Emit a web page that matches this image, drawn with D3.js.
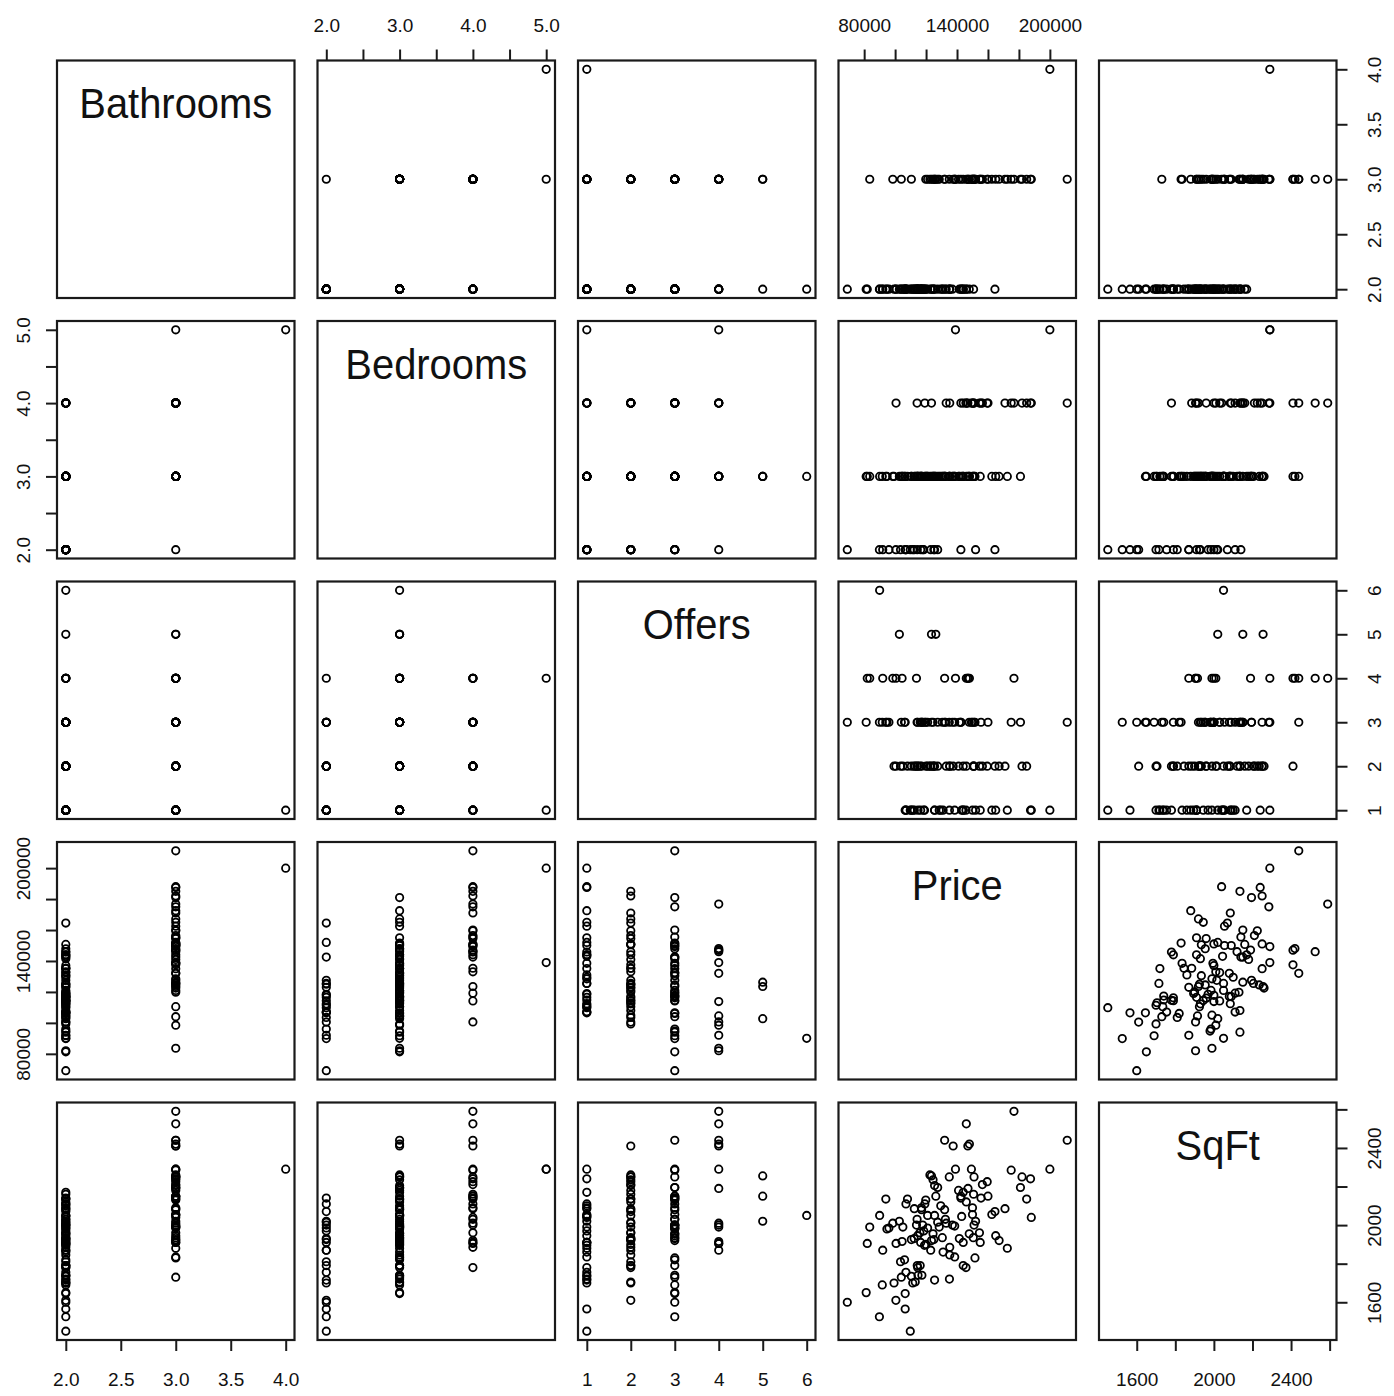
<!DOCTYPE html>
<html><head><meta charset="utf-8">
<script src="https://cdn.jsdelivr.net/npm/d3@7"></script>
<style>body{margin:0;background:#fff}svg{display:block}</style>
</head><body><svg id="c" width="1394" height="1396"></svg>
<script>
const varNames = ["Bathrooms","Bedrooms","Offers","Price","SqFt"];

const price = [69100,81300,83600,82000,89850,91700,92000,90000,94000,94700,
98500,99300,100600,100500,104500,104000,106500,106500,106100,103500,
102750,105000,109800,107000,111400,113000,114300,114800,114600,116200,
117300,112300,113800,117800,114200,119200,119800,117100,112400,123000,
126300,132500,137000,135100,125500,135000,151600,145800,144000,147100,
150700,156400,149300,167200,176800,188000,182000,211200,200000,139000,
175000,187500,181000,185000,172500,165000,171000,164500,162500,160000,
159500,151000,146000,147000,148000,137500,132000,141000,144000,142500,
152000,150000,150000,155500,146000,143000,142500,155000,154500,150500,
151000,144000,141500,138500,135300,135300,138500,131000,130500,125000,
124500,128500,119000,120000,121000,118500,110500,114500,116500,121000,
125500,127500,129500,122500,123500,125500,108000,107000,133000,132000,
127500,124500,117000,96000,110500,123500,147900,116000];

const sqft = [1600,1650,1990,1905,1525,1690,1870,2050,2135,1980,
2010,1700,1905,1610,1915,1730,1565,1645,1820,1810,
2020,1990,1450,1755,1700,1705,1790,1740,1780,1790,
1740,1930,2000,2000,2030,2110,2130,2080,2085,1870,
2150,2030,2000,1720,1715,2250,1830,1780,1790,2190,
2160,2210,2290,1920,2590,2040,2250,2440,2290,2290,
2285,2240,2195,2135,1880,1945,2085,2070,2055,2150,
2225,2250,2525,2410,2420,2410,2440,2180,2170,2150,
2020,2055,2090,2140,2120,2045,2140,1910,1960,1935,
2000,1910,1930,1835,1845,1885,1995,1860,1935,1925,
1955,1990,1895,1900,1985,1970,1925,1945,1910,2050,
2050,2015,2100,2260,2255,2205,2135,2110,2010,2080,
2195,2235,2090,1985,1735,1920,1955,1960];

const bedrooms = [2,3,3,3,2,3,2,3,3,3,
3,3,4,2,3,3,2,3,3,2,
3,3,2,2,2,3,2,3,3,3,
3,2,3,2,4,4,3,3,3,2,
3,3,3,3,2,3,3,4,3,3,
4,4,4,3,4,4,4,4,5,5,
4,4,3,4,3,3,4,2,3,4,
4,3,4,4,3,3,3,3,3,4,
2,3,4,4,3,3,2,3,4,3,
4,4,3,3,3,4,3,3,3,2,
3,3,3,3,3,2,3,3,2,3,
3,2,3,3,3,3,3,2,4,3,
3,3,3,2,3,4,3,3];

const bathrooms = [2,2,3,2,2,2,2,2,2,2,
3,2,2,2,2,3,2,2,2,2,
2,2,2,2,2,2,2,2,2,2,
2,2,2,2,2,2,3,2,2,2,
3,2,2,2,2,3,3,2,2,3,
2,3,3,3,3,3,3,3,4,3,
3,3,3,3,3,3,3,2,3,3,
3,3,3,3,3,3,3,3,2,3,
3,3,3,3,2,2,2,3,3,3,
3,3,2,3,2,2,3,2,2,2,
2,3,2,2,3,2,3,2,2,2,
3,2,2,3,3,3,2,2,2,3,
3,3,2,2,2,2,2,2];

const offers = [3,3,4,4,3,3,4,6,3,3,
4,2,4,2,4,3,1,3,3,2,
5,2,1,1,1,2,2,1,2,3,
3,2,4,3,3,3,3,2,1,2,
5,3,3,1,1,3,3,1,2,4,
2,2,3,2,4,1,2,3,1,4,
3,1,3,2,1,1,2,2,1,3,
2,2,4,4,4,2,4,2,1,3,
1,3,1,3,2,1,3,1,2,2,
3,1,3,1,2,2,3,1,3,2,
3,1,1,2,3,1,2,3,1,2,
1,2,1,2,5,2,2,1,2,3,
3,2,3,3,1,3,3,2];

const bathTicks = [2,2.5,3,3.5,4];
const bathTickLabels = ["2.0","2.5","3.0","3.5","4.0"];
const bedTicks = [2,2.5,3,3.5,4,4.5,5];
const bedTickLabels = ["2.0","","3.0","","4.0","","5.0"];
const offerTicks = [1,2,3,4,5,6];
const offerTickLabels = ["1","2","3","4","5","6"];
const priceTicks = [80000,100000,120000,140000,160000,180000,200000];
const priceTickLabels = ["80000","","","140000","","","200000"];
const sqftTicks = [1600,1800,2000,2200,2400,2600];
const sqftTickLabels = ["1600","","2000","","2400",""];

const vars = [
  {name: varNames[0], v: bathrooms, ticks: bathTicks, labels: bathTickLabels},
  {name: varNames[1], v: bedrooms, ticks: bedTicks, labels: bedTickLabels},
  {name: varNames[2], v: offers, ticks: offerTicks, labels: offerTickLabels},
  {name: varNames[3], v: price, ticks: priceTicks, labels: priceTickLabels},
  {name: varNames[4], v: sqft, ticks: sqftTicks, labels: sqftTickLabels}
];
vars.forEach(d => {
  const [lo, hi] = d3.extent(d.v);
  const pad = (hi - lo) * 0.04;
  d.dom = [lo - pad, hi + pad];
});

const n = vars.length;
const size = 237.5, step = 260.5, x0 = 57, y0 = 60.5;
const font = "'Liberation Sans', Arial, sans-serif";
const svg = d3.select("#c");
svg.append("rect").attr("width",1394).attr("height",1396).attr("fill","#fff");

function fmtFor(d){ return (val) => d.labels[d.ticks.indexOf(val)] || ""; }

for (let i = 0; i < n; i++) {
  for (let j = 0; j < n; j++) {
    const g = svg.append("g").attr("transform", `translate(${x0 + j*step},${y0 + i*step})`);
    const xs = d3.scaleLinear().domain(vars[j].dom).range([0, size]);
    const ys = d3.scaleLinear().domain(vars[i].dom).range([size, 0]);

    if (i === j) {
      g.append("text").attr("x", size/2).attr("y", 58)
        .attr("text-anchor","middle").attr("font-family",font)
        .attr("font-size",42).attr("fill","#111")
        .attr("transform", `translate(${size/2},0) scale(0.95,1) translate(${-size/2},0)`)
        .text(vars[i].name);
    } else {
      const xv = vars[j].v, yv = vars[i].v;
      g.selectAll("circle").data(d3.range(xv.length)).join("circle")
        .attr("cx", k => xs(xv[k])).attr("cy", k => ys(yv[k]))
        .attr("r", 3.7).attr("fill","none").attr("stroke","#000").attr("stroke-width",1.8);
    }

    g.append("rect").attr("x",0).attr("y",0).attr("width",size).attr("height",size)
      .attr("fill","none").attr("stroke","#1a1a1a").attr("stroke-width",2.2);

    const styleAxis = (ag) => {
      ag.select(".domain").remove();
      ag.selectAll(".tick line").attr("stroke","#1a1a1a").attr("stroke-width",2);
      ag.selectAll(".tick text").attr("font-family",font).attr("font-size",19).attr("fill","#111");
    };

    if (i === 0 && j % 2 === 1) {
      const ag = g.append("g").call(d3.axisTop(xs).tickValues(vars[j].ticks).tickFormat(fmtFor(vars[j])).tickSizeInner(11).tickSizeOuter(0));
      styleAxis(ag);
      ag.selectAll(".tick text").attr("y",-35).attr("dy","0.35em");
    }
    if (i === n-1 && j % 2 === 0) {
      const ag = g.append("g").attr("transform",`translate(0,${size})`)
        .call(d3.axisBottom(xs).tickValues(vars[j].ticks).tickFormat(fmtFor(vars[j])).tickSizeInner(11).tickSizeOuter(0));
      styleAxis(ag);
      ag.selectAll(".tick text").attr("y",39).attr("dy","0.35em");
    }
    if (j === 0 && i % 2 === 1) {
      const ag = g.append("g").call(d3.axisLeft(ys).tickValues(vars[i].ticks).tickFormat(fmtFor(vars[i])).tickSizeInner(11).tickSizeOuter(0));
      styleAxis(ag);
      ag.selectAll(".tick text").attr("x",0).attr("dy","0.35em").attr("text-anchor","middle")
        .attr("transform","translate(-34,0) rotate(-90)");
    }
    if (j === n-1 && i % 2 === 0) {
      const ag = g.append("g").attr("transform",`translate(${size},0)`)
        .call(d3.axisRight(ys).tickValues(vars[i].ticks).tickFormat(fmtFor(vars[i])).tickSizeInner(11).tickSizeOuter(0));
      styleAxis(ag);
      ag.selectAll(".tick text").attr("x",0).attr("dy","0.35em").attr("text-anchor","middle")
        .attr("transform","translate(38,0) rotate(-90)");
    }
  }
}
</script></body></html>
